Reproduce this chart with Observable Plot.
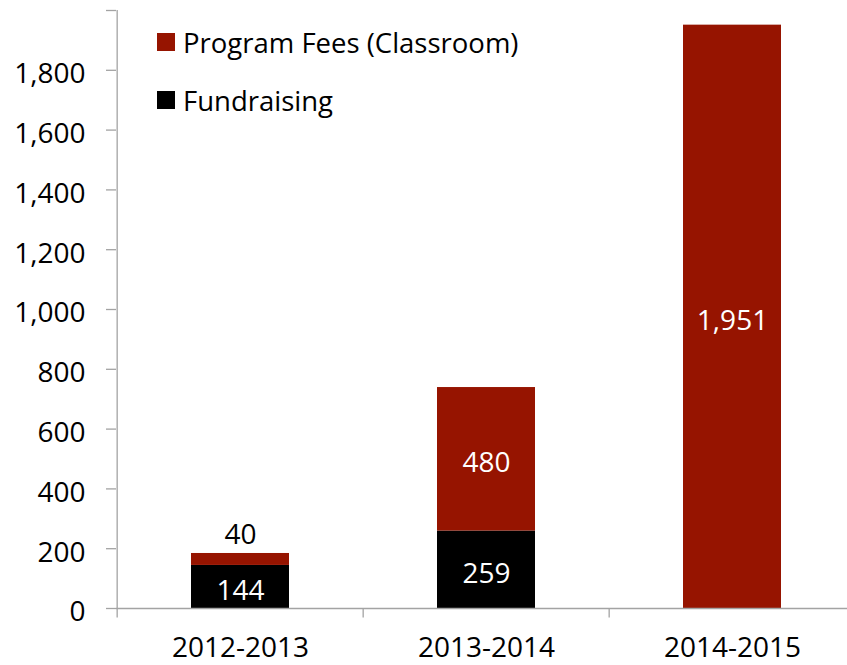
<!DOCTYPE html>
<html><head><meta charset="utf-8">
<script src="https://cdn.jsdelivr.net/npm/d3@7"></script>
<script src="https://cdn.jsdelivr.net/npm/@observablehq/plot@0.6"></script>
<style>
body{margin:0;background:#fff;font-family:"Open Sans",sans-serif}
#wrap{position:relative;width:847px;height:665px}
#legend{position:absolute;left:157px;top:22px;font-size:27.5px;color:#000}
.item{display:flex;align-items:center;height:40px;margin-bottom:18px}
.sw{width:18px;height:18px;margin-right:8px;flex:none}
</style>
</head><body><div id="wrap"><div id="chart"></div><div id="legend"></div></div>
<script>
const years = ["2012-2013", "2013-2014", "2014-2015"];
const fundraising = [144, 259, 0];
const programFees = [40, 480, 1951];
const seriesNames = ["Program Fees (Classroom)", "Fundraising"];
const seriesColors = ["#961400", "#000000"];
const yTicks = [0, 200, 400, 600, 800, 1000, 1200, 1400, 1600, 1800, 2000];

const gray = "#a3a3a3";
const rows = [];
years.forEach((yr, i) => {
  rows.push({year: yr, series: "Fundraising", value: fundraising[i], base: 0});
  rows.push({year: yr, series: "Program Fees (Classroom)", value: programFees[i], base: fundraising[i]});
});
const labels = rows.filter(r => r.value > 0).map(r => {
  const small = r.value < 100;
  return {year: r.year, y: small ? r.base + r.value : r.base + r.value / 2, text: d3.format(",")(r.value), small};
});

const x0 = 116, x1 = 856;
const step = (x1 - x0) / years.length;
const fs = 28;

const chart = Plot.plot({
  width: 847,
  height: 665,
  marginLeft: 116,
  marginRight: 0,
  marginTop: 10,
  marginBottom: 57,
  style: {fontFamily: "'Open Sans', sans-serif", background: "#fff"},
  x: {domain: years, range: [x0, x1], paddingInner: 0.6, paddingOuter: 0.3, label: null},
  y: {domain: [0, 2000], label: null},
  color: {domain: seriesNames, range: seriesColors},
  marks: [
    Plot.barY(rows, {x: "year", y1: "base", y2: d => d.base + d.value, fill: "series"}),
    Plot.ruleY([0], {stroke: gray, strokeWidth: 1.3}),
    Plot.ruleX([years[0]], {x: d => d, dx: -step / 2, y1: -32, y2: 2000, stroke: gray, strokeWidth: 1.3}),
    Plot.ruleX(years.slice(1), {x: d => d, dx: -step / 2, y1: -32, y2: 0, stroke: gray, strokeWidth: 1.3}),
    Plot.axisY(yTicks, {tickSize: 10, stroke: gray, strokeWidth: 1.3, tickFormat: () => "", label: null}),
    Plot.axisY(yTicks, {tickSize: 0, tickPadding: 31, dy: 4, fill: "#000", fontSize: fs,
      tickFormat: d => d === 2000 ? "" : d3.format(",")(d), label: null}),
    Plot.axisX({tickSize: 0, tickPadding: 29, fill: "#000", fontSize: fs, label: null}),
    Plot.text(labels.filter(d => !d.small), {x: "year", y: "y", text: "text", fontSize: fs, fill: "#fff", dy: 4}),
    Plot.text(labels.filter(d => d.small), {x: "year", y: "y", text: "text", fontSize: fs, fill: "#000", dy: -18})
  ]
});
document.getElementById("chart").appendChild(chart);

const legend = document.getElementById("legend");
seriesNames.forEach((n, i) => {
  const it = document.createElement("div");
  it.className = "item";
  const sw = document.createElement("span");
  sw.className = "sw";
  sw.style.background = seriesColors[i];
  const t = document.createElement("span");
  t.textContent = n;
  it.appendChild(sw); it.appendChild(t);
  legend.appendChild(it);
});
</script>
</body></html>
